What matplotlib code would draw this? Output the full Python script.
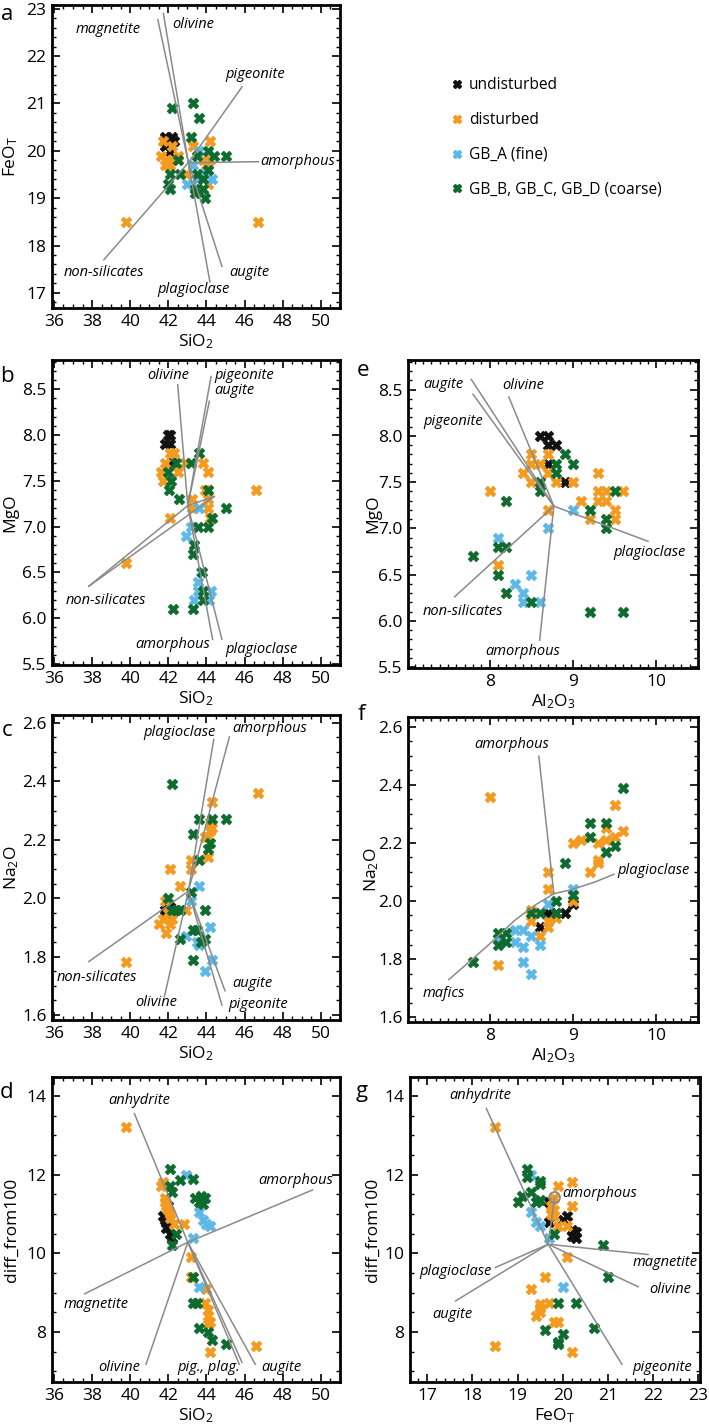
import matplotlib
matplotlib.use("Agg")
import matplotlib.pyplot as plt
from matplotlib.ticker import MultipleLocator, FormatStrFormatter
from matplotlib.lines import Line2D

plt.rcParams['font.family'] = ['Open Sans', 'DejaVu Sans']
plt.rcParams['mathtext.default'] = 'regular'

# ---------------- colours / groups ----------------
GROUPS = ["undisturbed", "disturbed", "GB_A (fine)", "GB_B, GB_C, GB_D (coarse)"]
COLORS = ["#111111", "#F39A1F", "#5CB8E6", "#0E6B2E"]
LINE_COLOR = "#8a8a8a"

# ---------------- panel a: SiO2 vs FeOT ----------------
A_UNDIST = [(41.8, 20.3), (42.2, 20.3), (42.0, 20.2), (42.1, 20.0), (42.3, 20.2), (41.8, 20.1)]
A_DIST = [(39.8, 18.5), (46.7, 18.5), (41.7, 20.2), (41.6, 19.9), (41.9, 19.8), (42.0, 19.7),
          (42.2, 19.8), (42.5, 19.9), (42.2, 20.1), (43.3, 20.1), (44.2, 20.2), (43.8, 19.8),
          (44.2, 19.8), (42.9, 19.5), (44.1, 19.3), (41.8, 19.7), (42.1, 19.7), (44.0, 19.7)]
A_FINE = [(43.6, 20.0), (43.3, 19.7), (43.0, 19.3), (44.1, 19.6), (44.3, 19.4), (43.9, 19.5), (43.5, 19.4)]
A_COARSE = [(42.2, 20.9), (43.3, 21.0), (43.6, 20.7), (43.2, 20.3), (42.5, 19.8), (43.5, 19.9),
            (44.1, 20.0), (44.4, 19.9), (45.0, 19.9), (44.1, 19.6), (42.1, 19.5), (42.6, 19.5),
            (42.0, 19.3), (42.1, 19.2), (43.5, 19.5), (43.8, 19.4), (43.4, 19.2), (43.4, 19.1),
            (43.8, 19.2), (43.9, 19.0)]
A_CENTER = (43.05, 19.75)
A_ENDS = [(41.45, 22.77), (41.74, 22.9), (45.86, 21.35), (46.73, 19.77), (44.81, 17.56), (44.18, 17.23), (38.62, 17.7)]
A_LABELS = ["magnetite", "olivine", "pigeonite", "amorphous", "augite", "plagioclase", "non-silicates"]
A_LABEL_XY = [(38.83, 22.56), (43.3, 22.67), (46.56, 21.61), (48.77, 19.77), (46.24, 17.42), (43.33, 17.08), (38.62, 17.44)]

# ---------------- panel b: SiO2 vs MgO ----------------
B_UNDIST = [(42.0, 8.0), (42.1, 8.0), (41.8, 7.9), (42.1, 7.9), (42.2, 7.7)]
B_DIST = [(42.1, 7.8), (41.85, 7.7), (42.85, 7.7), (43.8, 7.7), (41.6, 7.6), (42.5, 7.6), (44.1, 7.6),
          (41.7, 7.5), (43.9, 7.4), (46.6, 7.4), (43.25, 7.3), (44.1, 7.3), (43.25, 7.2), (44.1, 7.2),
          (42.1, 7.1), (44.2, 7.1), (39.8, 6.6), (42.3, 7.8), (44.1, 7.4)]
B_FINE = [(43.6, 7.2), (43.2, 7.0), (42.9, 6.9), (43.7, 6.5), (43.55, 6.4), (43.55, 6.3), (44.25, 6.3),
          (43.35, 6.2), (44.15, 6.2)]
B_COARSE = [(43.6, 7.8), (42.4, 7.7), (43.2, 7.7), (42.0, 7.6), (42.15, 7.5), (42.05, 7.4), (42.55, 7.3),
            (44.1, 7.4), (45.0, 7.2), (44.3, 7.1), (43.55, 7.0), (44.1, 7.0), (43.35, 6.8), (43.3, 6.7),
            (43.75, 6.5), (43.8, 6.3), (43.8, 6.2), (42.25, 6.1), (43.3, 6.1)]
B_CENTER = (43.02, 7.23)
B_ENDS = [(42.49, 8.55), (44.24, 8.64), (44.15, 8.37), (37.83, 6.35), (44.41, 7.33), (44.32, 5.77), (44.81, 5.77)]
B_LABELS = ["olivine", "pigeonite", "augite", "non-silicates", "amorphous", "plagioclase"]
B_LABEL_XY = [(41.97, 8.65), (45.98, 8.65), (45.46, 8.49), (38.7, 6.19), (42.23, 5.71), (46.86, 5.66)]

# ---------------- panel e: Al2O3 vs MgO ----------------
E_UNDIST = [(8.6, 8.0), (8.7, 8.0), (8.7, 7.9), (8.8, 7.9), (8.7, 7.7), (8.9, 7.5)]
E_DIST = [(8.5, 7.8), (8.5, 7.7), (8.6, 7.7), (8.7, 7.8), (8.4, 7.6), (8.5, 7.5), (8.7, 7.6), (8.8, 7.5),
          (9.0, 7.5), (8.0, 7.4), (9.1, 7.3), (9.3, 7.6), (9.3, 7.4), (9.4, 7.4), (9.6, 7.4), (9.3, 7.3),
          (9.4, 7.3), (9.5, 7.2), (9.5, 7.1), (9.2, 7.1), (8.7, 7.2), (8.1, 6.6)]
E_FINE = [(9.0, 7.2), (8.7, 7.0), (8.1, 6.9), (8.5, 6.5), (8.3, 6.4), (8.4, 6.3), (8.4, 6.2), (8.6, 6.2)]
E_COARSE = [(8.9, 7.8), (9.0, 7.7), (8.8, 7.7), (8.8, 7.6), (8.6, 7.5), (8.6, 7.4), (8.2, 7.3), (9.5, 7.4),
            (9.2, 7.2), (9.4, 7.1), (9.4, 7.0), (8.1, 6.8), (8.2, 6.8), (7.8, 6.7), (8.1, 6.5), (8.2, 6.3),
            (8.5, 6.2), (9.2, 6.1), (9.6, 6.1)]
E_CENTER = (8.77, 7.24)
E_ENDS = [(7.78, 8.61), (7.8, 8.45), (8.23, 8.42), (9.9, 6.86), (8.6, 5.79), (7.58, 6.26)]
E_LABELS = ["augite", "pigeonite", "olivine", "plagioclase", "amorphous", "non-silicates"]
E_LABEL_XY = [(7.45, 8.55), (7.56, 8.16), (8.4, 8.54), (9.92, 6.74), (8.4, 5.67), (7.68, 6.1)]

# ---------------- panel c: SiO2 vs Na2O ----------------
C_UNDIST = [(41.8, 1.96), (42.0, 1.96), (42.2, 1.95), (42.1, 1.97), (41.9, 1.95)]
C_DIST = [(46.7, 2.36), (44.3, 2.33), (44.2, 2.26), (44.2, 2.23), (44.3, 2.24), (43.9, 2.21), (44.1, 2.21),
          (44.1, 2.14), (43.2, 2.13), (43.2, 2.10), (42.1, 2.10), (42.6, 2.04), (42.9, 1.96), (41.8, 1.99),
          (41.5, 1.91), (41.9, 1.88), (42.1, 1.91), (42.2, 1.93), (39.8, 1.78), (42.0, 1.95), (41.7, 1.93)]
C_FINE = [(43.2, 1.99), (43.6, 2.04), (44.2, 1.90), (42.9, 1.87), (43.5, 1.85), (43.6, 1.84), (44.3, 1.79), (43.9, 1.75)]
C_COARSE = [(42.2, 2.39), (43.3, 2.22), (43.6, 2.27), (44.3, 2.27), (45.0, 2.27), (44.2, 2.19), (44.1, 2.17),
            (43.6, 2.13), (43.2, 2.02), (42.0, 2.0), (42.6, 1.96), (43.9, 1.96), (42.6, 1.86), (43.3, 1.89),
            (43.5, 1.89), (43.7, 1.85), (43.9, 1.86), (43.3, 1.79), (42.2, 1.96), (42.4, 1.96)]
C_CENTER = (43.05, 2.024)
C_ENDS = [(44.38, 2.543), (45.2, 2.552), (37.83, 1.783), (41.79, 1.662), (44.97, 1.683), (44.81, 1.634)]
C_LABELS = ["plagioclase", "amorphous", "non-silicates", "olivine", "augite", "pigeonite"]
C_LABEL_XY = [(42.58, 2.566), (47.29, 2.58), (38.27, 1.73), (41.36, 1.642), (46.38, 1.708), (46.73, 1.637)]

# ---------------- panel f: Al2O3 vs Na2O ----------------
F_UNDIST = [(8.7, 1.96), (8.7, 1.95), (8.6, 1.91), (8.8, 1.96), (8.9, 1.96), (9.0, 1.99)]
F_DIST = [(8.0, 2.36), (9.5, 2.33), (9.0, 2.2), (9.1, 2.21), (9.3, 2.2), (9.4, 2.21), (9.5, 2.22), (9.6, 2.24),
          (9.4, 2.25), (9.3, 2.14), (9.3, 2.13), (9.2, 2.1), (8.7, 2.1), (8.7, 2.04), (9.0, 2.0), (8.5, 1.97),
          (8.5, 1.93), (8.6, 1.88), (8.7, 1.91), (8.7, 1.93), (8.8, 1.94), (8.1, 1.78)]
F_FINE = [(9.0, 2.04), (8.7, 1.99), (8.3, 1.90), (8.4, 1.90), (8.5, 1.88), (8.3, 1.86), (8.4, 1.84),
          (8.6, 1.85), (8.4, 1.79), (8.5, 1.75), (8.1, 1.87)]
F_COARSE = [(9.6, 2.39), (9.2, 2.27), (9.4, 2.27), (9.2, 2.22), (9.5, 2.19), (9.4, 2.17), (8.9, 2.13),
            (9.0, 2.02), (8.8, 2.0), (8.5, 1.96), (8.6, 1.96), (8.8, 1.96), (8.1, 1.89), (8.2, 1.89),
            (8.1, 1.85), (8.2, 1.86), (7.8, 1.79)]
F_AMORPH_X = [8.59, 8.77]
F_AMORPH_Y = [2.499, 2.025]
F_CURVE_X = [7.51, 7.98, 8.30, 8.54, 8.77, 8.98, 9.26, 9.49]
F_CURVE_Y = [1.729, 1.847, 1.933, 1.985, 2.025, 2.039, 2.065, 2.092]
F_LABELS = ["amorphous", "plagioclase", "mafics"]
F_LABEL_XY = [(8.26, 2.539), (9.97, 2.106), (7.45, 1.68)]

# ---------------- panel d: SiO2 vs diff_from100 ----------------
D_UNDIST = [(41.7, 10.95), (41.9, 10.65), (42.1, 10.5), (42.2, 10.4), (41.8, 10.85), (42.0, 10.8), (42.0, 11.2)]
D_DIST = [(39.8, 13.2), (41.6, 11.7), (41.7, 11.8), (41.8, 11.4), (41.8, 11.3), (42.0, 11.1), (42.1, 11.0),
          (42.1, 10.9), (42.3, 10.75), (42.8, 10.75), (43.2, 9.9), (43.2, 9.4), (44.0, 9.1), (43.9, 8.75),
          (44.1, 8.55), (44.1, 8.4), (44.1, 8.2), (44.2, 8.25), (44.2, 7.5), (46.6, 7.65), (41.9, 11.2)]
D_FINE = [(42.9, 12.0), (43.6, 11.05), (43.8, 10.85), (44.2, 10.7), (43.3, 10.4), (43.6, 9.15), (44.0, 10.75)]
D_COARSE = [(42.1, 12.15), (42.1, 11.7), (42.6, 11.87), (43.3, 11.9), (42.4, 10.5), (42.2, 10.2), (43.4, 11.4),
            (43.7, 11.45), (43.8, 11.26), (43.6, 11.3), (43.3, 9.4), (43.3, 8.75), (43.5, 8.75), (43.6, 8.1),
            (44.1, 8.0), (44.3, 7.8), (45.0, 7.7), (42.2, 11.55), (43.9, 11.4)]
D_CENTER = (43.02, 10.28)
D_ENDS = [(40.22, 13.55), (49.56, 11.61), (37.61, 8.97), (40.83, 7.18), (45.72, 7.18), (45.86, 7.23), (46.56, 7.18)]
D_LABELS = ["anhydrite", "amorphous", "magnetite", "olivine", "pig., plag.", "augite"]
D_LABEL_XY = [(40.45, 13.89), (48.69, 11.85), (38.22, 8.71), (39.4, 7.1), (44.11, 7.1), (47.95, 7.1)]

# ---------------- panel g: FeOT vs diff_from100 ----------------
G_UNDIST = [(19.7, 11.3), (19.7, 10.8), (20.0, 10.85), (20.1, 10.95), (20.2, 10.6), (20.2, 10.45),
            (20.3, 10.55), (20.3, 10.4)]
G_DIST = [(18.5, 13.2), (18.5, 7.65), (19.9, 11.7), (20.2, 11.8), (20.2, 11.2), (19.8, 11.4), (19.75, 11.2),
          (19.8, 11.1), (19.75, 11.0), (19.8, 10.95), (20.1, 10.7), (19.9, 10.7), (20.1, 9.9), (19.6, 9.4),
          (19.3, 9.1), (19.5, 8.7), (19.5, 8.5), (19.4, 8.4), (19.7, 8.75), (19.8, 8.25), (19.9, 8.25),
          (20.2, 7.5), (19.5, 8.6)]
G_FINE = [(19.3, 12.0), (19.3, 11.05), (19.4, 10.8), (19.5, 10.7), (19.7, 10.4), (20.0, 9.15), (19.4, 11.3)]
G_COARSE = [(19.2, 12.15), (19.2, 11.95), (19.5, 11.85), (19.5, 11.75), (19.3, 11.55), (19.1, 11.45),
            (19.0, 11.3), (19.4, 11.3), (19.5, 11.35), (19.8, 10.5), (20.9, 10.2), (21.0, 9.4), (19.9, 8.75),
            (20.3, 8.75), (20.7, 8.1), (19.6, 8.05), (20.0, 7.95), (19.9, 7.75), (19.9, 7.7)]
G_CENTER = (19.68, 10.23)
G_ENDS = [(18.31, 13.68), (21.31, 7.18), (21.89, 9.97), (21.67, 9.15), (18.51, 9.64), (17.63, 8.79)]
G_AMORPH_POINT = (19.82, 11.42)
G_LABELS = ["anhydrite", "amorphous", "magnetite", "olivine", "plagioclase", "augite", "pigeonite"]
G_LABEL_XY = [(18.17, 14.0), (20.82, 11.53), (22.27, 9.76), (22.38, 9.08), (17.63, 9.53), (17.55, 8.45), (22.2, 7.11)]

# ---------------- figure ----------------
W, H = 709, 1425
fig = plt.figure(figsize=(W / 100, H / 100), dpi=100)

TICK_FS = 12.5
LABEL_FS = 12.5
ANNOT_FS = 10.5


def make_ax(l, t, r, b):
    return fig.add_axes([l / W, 1 - b / H, (r - l) / W, (b - t) / H])


def style(ax, xlim, ylim, xmaj, xmin, ymaj, ymin, yfmt=None):
    ax.set_xlim(*xlim)
    ax.set_ylim(*ylim)
    ax.xaxis.set_major_locator(MultipleLocator(xmaj))
    ax.xaxis.set_minor_locator(MultipleLocator(xmin))
    ax.yaxis.set_major_locator(MultipleLocator(ymaj))
    ax.yaxis.set_minor_locator(MultipleLocator(ymin))
    if yfmt:
        ax.yaxis.set_major_formatter(FormatStrFormatter(yfmt))
    ax.tick_params(which='both', direction='in', top=True, right=True, labelsize=TICK_FS, pad=4)
    ax.tick_params(which='major', length=6, width=1.2)
    ax.tick_params(which='minor', length=3, width=1.0)
    for s in ax.spines.values():
        s.set_linewidth(2.0)


def scatter_groups(ax, groups):
    for pts, col, lab in zip(groups, COLORS, GROUPS):
        xs = [p[0] for p in pts]
        ys = [p[1] for p in pts]
        ax.scatter(xs, ys, marker='X', s=62, color=col, edgecolors=col, linewidths=0.4,
                   zorder=2, label=lab)


def star_lines(ax, center, ends):
    for ex, ey in ends:
        ax.plot([center[0], ex], [center[1], ey], color=LINE_COLOR, lw=1.1, zorder=3)


def labels(ax, names, xy):
    for n, (x, y) in zip(names, xy):
        ax.text(x, y, n, style='italic', fontsize=ANNOT_FS, ha='center', va='center', zorder=4)


def ylab(ax, text, xpx, left):
    ax.set_ylabel(text, fontsize=LABEL_FS)
    ax.yaxis.set_label_coords((xpx - left) / (ax.get_position().width * W), 0.5)


def panel_letter(xpx, ypx, s):
    fig.text(xpx / W, 1 - ypx / H, s, fontsize=16, ha='center', va='center')


# panel a
ax = make_ax(52, 5, 340, 308)
style(ax, (35.9, 51.0), (16.68, 23.08), 2, 0.5, 1, 0.2)
scatter_groups(ax, [A_UNDIST, A_DIST, A_FINE, A_COARSE])
star_lines(ax, A_CENTER, A_ENDS)
labels(ax, A_LABELS, A_LABEL_XY)
ax.set_xlabel("SiO$_2$", fontsize=LABEL_FS, labelpad=2)
ylab(ax, "FeO$_T$", 20, 52)
panel_letter(7, 14, "a")

# panel b
ax = make_ax(52, 360, 340, 665)
style(ax, (35.9, 51.0), (5.49, 8.82), 2, 0.5, 0.5, 0.1, '%.1f')
scatter_groups(ax, [B_UNDIST, B_DIST, B_FINE, B_COARSE])
star_lines(ax, B_CENTER, B_ENDS)
ax.plot([B_ENDS[3][0], B_ENDS[4][0]], [B_ENDS[3][1], B_ENDS[4][1]], color=LINE_COLOR, lw=1.1, zorder=3)
labels(ax, B_LABELS, B_LABEL_XY)
ax.set_xlabel("SiO$_2$", fontsize=LABEL_FS, labelpad=2)
ylab(ax, "MgO", 18, 52)
panel_letter(7, 377, "b")

# panel e
ax = make_ax(408, 360, 698, 668)
style(ax, (7.02, 10.5), (5.49, 8.82), 1, 0.1, 0.5, 0.1, '%.1f')
scatter_groups(ax, [E_UNDIST, E_DIST, E_FINE, E_COARSE])
star_lines(ax, E_CENTER, E_ENDS)
labels(ax, E_LABELS, E_LABEL_XY)
ax.set_xlabel("Al$_2$O$_3$", fontsize=LABEL_FS, labelpad=2)
ylab(ax, "MgO", 381, 408)
panel_letter(363, 371, "e")

# panel c
ax = make_ax(52, 715, 340, 1020)
style(ax, (35.9, 51.0), (1.583, 2.627), 2, 0.5, 0.2, 0.05, '%.1f')
scatter_groups(ax, [C_UNDIST, C_DIST, C_FINE, C_COARSE])
star_lines(ax, C_CENTER, C_ENDS)
labels(ax, C_LABELS, C_LABEL_XY)
ax.set_xlabel("SiO$_2$", fontsize=LABEL_FS, labelpad=2)
ylab(ax, "Na$_2$O", 21, 52)
panel_letter(7, 730, "c")

# panel f
ax = make_ax(408, 717, 698, 1022)
style(ax, (7.02, 10.5), (1.583, 2.634), 1, 0.1, 0.2, 0.05, '%.1f')
scatter_groups(ax, [F_UNDIST, F_DIST, F_FINE, F_COARSE])
ax.plot(F_AMORPH_X, F_AMORPH_Y, color=LINE_COLOR, lw=1.1, zorder=3)
ax.plot(F_CURVE_X, F_CURVE_Y, color=LINE_COLOR, lw=1.1, zorder=3)
labels(ax, F_LABELS, F_LABEL_XY)
ax.set_xlabel("Al$_2$O$_3$", fontsize=LABEL_FS, labelpad=2)
ylab(ax, "Na$_2$O", 381, 408)
panel_letter(361, 715, "f")

# panel d
ax = make_ax(52, 1077, 340, 1382)
style(ax, (35.9, 51.0), (6.73, 14.48), 2, 0.5, 2, 0.5)
scatter_groups(ax, [D_UNDIST, D_DIST, D_FINE, D_COARSE])
star_lines(ax, D_CENTER, D_ENDS)
labels(ax, D_LABELS, D_LABEL_XY)
ax.set_xlabel("SiO$_2$", fontsize=LABEL_FS, labelpad=2)
ylab(ax, "diff_from100", 20, 52)
panel_letter(7, 1093, "d")

# panel g
ax = make_ax(410, 1077, 700, 1382)
style(ax, (16.62, 23.04), (6.73, 14.48), 1, 0.2, 2, 0.5)
scatter_groups(ax, [G_UNDIST, G_DIST, G_FINE, G_COARSE])
star_lines(ax, G_CENTER, G_ENDS)
ax.plot([G_CENTER[0], G_AMORPH_POINT[0]], [G_CENTER[1], G_AMORPH_POINT[1]], color=LINE_COLOR, lw=1.1, zorder=3)
ax.scatter([G_AMORPH_POINT[0]], [G_AMORPH_POINT[1]], s=60, facecolors='none', edgecolors=LINE_COLOR,
           linewidths=1.3, zorder=4)
labels(ax, G_LABELS, G_LABEL_XY)
ax.set_xlabel("FeO$_T$", fontsize=LABEL_FS, labelpad=2)
ylab(ax, "diff_from100", 381, 410)
panel_letter(362, 1092, "g")

# legend
handles = [Line2D([], [], marker='X', ls='none', color=c, markersize=5.5) for c in COLORS]
fig.legend(handles, GROUPS, loc='upper left', bbox_to_anchor=(452 / W, 1 - 77 / H), frameon=False,
           fontsize=11.2, labelspacing=1.22, handlelength=0.6, handletextpad=0.5,
           borderpad=0, borderaxespad=0)

fig.savefig("out.png", dpi=100)
